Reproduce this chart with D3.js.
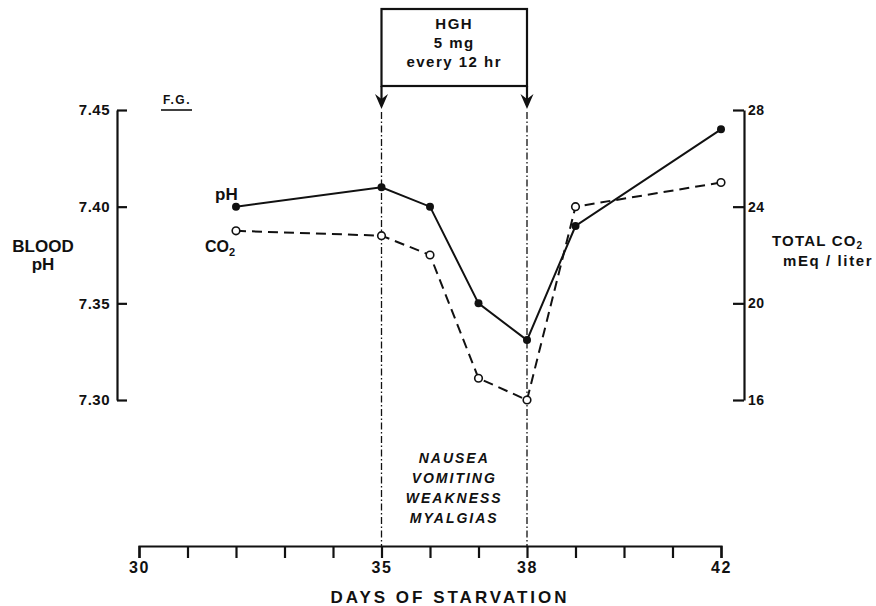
<!DOCTYPE html>
<html>
<head>
<meta charset="utf-8">
<script src="https://cdn.jsdelivr.net/npm/d3@7"></script>
<style>
  body { margin: 0; background: #fff; }
  svg text { font-family: "Liberation Sans", Arial, sans-serif; fill: #111; }
</style>
</head>
<body>
<div id="chart"></div>
<script>
const days = [32, 35, 36, 37, 38, 39, 42];
const phValues = [7.40, 7.41, 7.40, 7.35, 7.331, 7.39, 7.44];
const co2Values = [23.0, 22.8, 22.0, 16.9, 16.0, 24.0, 25.0];
const dayTicks = [30, 31, 32, 33, 34, 35, 36, 37, 38, 39, 40, 41, 42];
const dayLabels = [30, 35, 38, 42];
const phTicks = [7.30, 7.35, 7.40, 7.45];
const co2Ticks = [16, 20, 24, 28];
const hghDays = [35, 38];
const hghText = ["HGH", "5 mg", "every 12 hr"];
const symptoms = ["NAUSEA", "VOMITING", "WEAKNESS", "MYALGIAS"];

const canvasWidth = 876;
const canvasHeight = 606;
const axisY = 546;

const svg = d3.select("#chart")
    .append("svg")
    .attr("width", canvasWidth)
    .attr("height", canvasHeight);

const xScale = d3.scaleLinear().domain([30, 42]).range([139, 721]);
const yPh = d3.scaleLinear().domain([7.30, 7.45]).range([400, 110]);
const yCo2 = d3.scaleLinear().domain([16, 28]).range([400, 110]);

// axes
const xAxis = d3.axisBottom(xScale)
    .tickValues(dayTicks)
    .tickSizeInner(12)
    .tickSizeOuter(12)
    .tickPadding(4)
    .tickFormat(d => dayLabels.includes(d) ? d : "");

svg.append("g")
    .attr("transform", `translate(0,${axisY})`)
    .call(xAxis)
    .call(g => g.selectAll("path, line").attr("stroke", "#111").attr("stroke-width", 2.2))
    .call(g => g.selectAll("text").attr("font-size", 16).attr("font-weight", "bold")
        .attr("letter-spacing", 1.5).attr("fill", "#111"));

const leftAxis = d3.axisLeft(yPh)
    .tickValues(phTicks)
    .tickSizeInner(-10)
    .tickSizeOuter(0)
    .tickPadding(7)
    .tickFormat(d3.format(".2f"));

svg.append("g")
    .attr("transform", "translate(117,0)")
    .call(leftAxis)
    .call(g => g.selectAll("path, line").attr("stroke", "#111").attr("stroke-width", 2.2))
    .call(g => g.selectAll("text").attr("font-size", 15).attr("font-weight", "bold")
        .attr("letter-spacing", 0.5).attr("fill", "#111"));

const rightAxis = d3.axisRight(yCo2)
    .tickValues(co2Ticks)
    .tickSizeInner(-11)
    .tickSizeOuter(0)
    .tickPadding(4);

svg.append("g")
    .attr("transform", "translate(744,0)")
    .call(rightAxis)
    .call(g => g.selectAll("path, line").attr("stroke", "#111").attr("stroke-width", 2.2))
    .call(g => g.selectAll("text").attr("font-size", 14).attr("font-weight", "bold")
        .attr("letter-spacing", 0.5).attr("fill", "#111"));

// axis titles
svg.append("text").attr("x", 43).attr("y", 252).attr("text-anchor", "middle")
    .attr("font-size", 17).attr("font-weight", "bold").text("BLOOD");
svg.append("text").attr("x", 43).attr("y", 270).attr("text-anchor", "middle")
    .attr("font-size", 17).attr("font-weight", "bold").text("pH");

const co2Title = svg.append("text").attr("x", 772).attr("y", 246)
    .attr("font-size", 15).attr("font-weight", "bold").attr("letter-spacing", 1.2);
co2Title.append("tspan").text("TOTAL CO");
co2Title.append("tspan").attr("font-size", 10).attr("dy", 3).text("2");
svg.append("text").attr("x", 783).attr("y", 266)
    .attr("font-size", 15).attr("font-weight", "bold").attr("letter-spacing", 1.6)
    .text("mEq / liter");

svg.append("text").attr("x", 450).attr("y", 603).attr("text-anchor", "middle")
    .attr("font-size", 17).attr("font-weight", "bold").attr("letter-spacing", 3)
    .text("DAYS OF STARVATION");

// F.G.
svg.append("text").attr("x", 163).attr("y", 104)
    .attr("font-size", 12).attr("font-weight", "bold").attr("letter-spacing", 1.5).text("F.G.");
svg.append("line").attr("x1", 161).attr("x2", 192).attr("y1", 110).attr("y2", 110)
    .attr("stroke", "#111").attr("stroke-width", 1.6);

// HGH box and arrows
const boxTop = 9, boxBottom = 86;
svg.append("rect")
    .attr("x", xScale(hghDays[0])).attr("y", boxTop)
    .attr("width", xScale(hghDays[1]) - xScale(hghDays[0]))
    .attr("height", boxBottom - boxTop)
    .attr("fill", "none").attr("stroke", "#111").attr("stroke-width", 2.2);

svg.selectAll(".hgh-text")
    .data(hghText)
    .enter()
    .append("text")
    .attr("class", "hgh-text")
    .attr("x", (xScale(hghDays[0]) + xScale(hghDays[1])) / 2)
    .attr("y", (d, i) => 29 + i * 19)
    .attr("text-anchor", "middle")
    .attr("font-size", 15)
    .attr("font-weight", "bold")
    .attr("letter-spacing", 1.5)
    .text(d => d);

hghDays.forEach(day => {
    const x = xScale(day);
    svg.append("line").attr("x1", x).attr("x2", x).attr("y1", boxBottom).attr("y2", 100)
        .attr("stroke", "#111").attr("stroke-width", 2.2);
    svg.append("path")
        .attr("d", `M${x - 6.5},${94} L${x},${109} L${x + 6.5},${94} L${x},${99} Z`)
        .attr("fill", "#111");
    svg.append("line").attr("x1", x).attr("x2", x).attr("y1", 112).attr("y2", axisY)
        .attr("stroke", "#111").attr("stroke-width", 1.3)
        .attr("stroke-dasharray", "7,2.5,1.5,2.5");
});

// symptoms
svg.selectAll(".symptom")
    .data(symptoms)
    .enter()
    .append("text")
    .attr("class", "symptom")
    .attr("x", (xScale(hghDays[0]) + xScale(hghDays[1])) / 2)
    .attr("y", (d, i) => 463 + i * 20)
    .attr("text-anchor", "middle")
    .attr("font-size", 14)
    .attr("font-weight", "bold")
    .attr("font-style", "italic")
    .attr("letter-spacing", 2)
    .text(d => d);

// series
const phData = days.map((d, i) => ({ day: d, v: phValues[i] }));
const co2Data = days.map((d, i) => ({ day: d, v: co2Values[i] }));

svg.append("path")
    .datum(co2Data)
    .attr("fill", "none")
    .attr("stroke", "#111")
    .attr("stroke-width", 2)
    .attr("stroke-dasharray", "10,6")
    .attr("d", d3.line().x(d => xScale(d.day)).y(d => yCo2(d.v)));

svg.append("path")
    .datum(phData)
    .attr("fill", "none")
    .attr("stroke", "#111")
    .attr("stroke-width", 2)
    .attr("d", d3.line().x(d => xScale(d.day)).y(d => yPh(d.v)));

svg.selectAll(".co2-dot")
    .data(co2Data)
    .enter()
    .append("circle")
    .attr("class", "co2-dot")
    .attr("cx", d => xScale(d.day))
    .attr("cy", d => yCo2(d.v))
    .attr("r", 3.8)
    .attr("fill", "#fff")
    .attr("stroke", "#111")
    .attr("stroke-width", 1.6);

svg.selectAll(".ph-dot")
    .data(phData)
    .enter()
    .append("circle")
    .attr("class", "ph-dot")
    .attr("cx", d => xScale(d.day))
    .attr("cy", d => yPh(d.v))
    .attr("r", 4)
    .attr("fill", "#111");

// series labels
svg.append("text").attr("x", 215).attr("y", 200)
    .attr("font-size", 17).attr("font-weight", "bold").text("pH");
const co2Label = svg.append("text").attr("x", 205).attr("y", 252)
    .attr("font-size", 16).attr("font-weight", "bold");
co2Label.append("tspan").text("CO");
co2Label.append("tspan").attr("font-size", 11).attr("dy", 4).text("2");
</script>
</body>
</html>
